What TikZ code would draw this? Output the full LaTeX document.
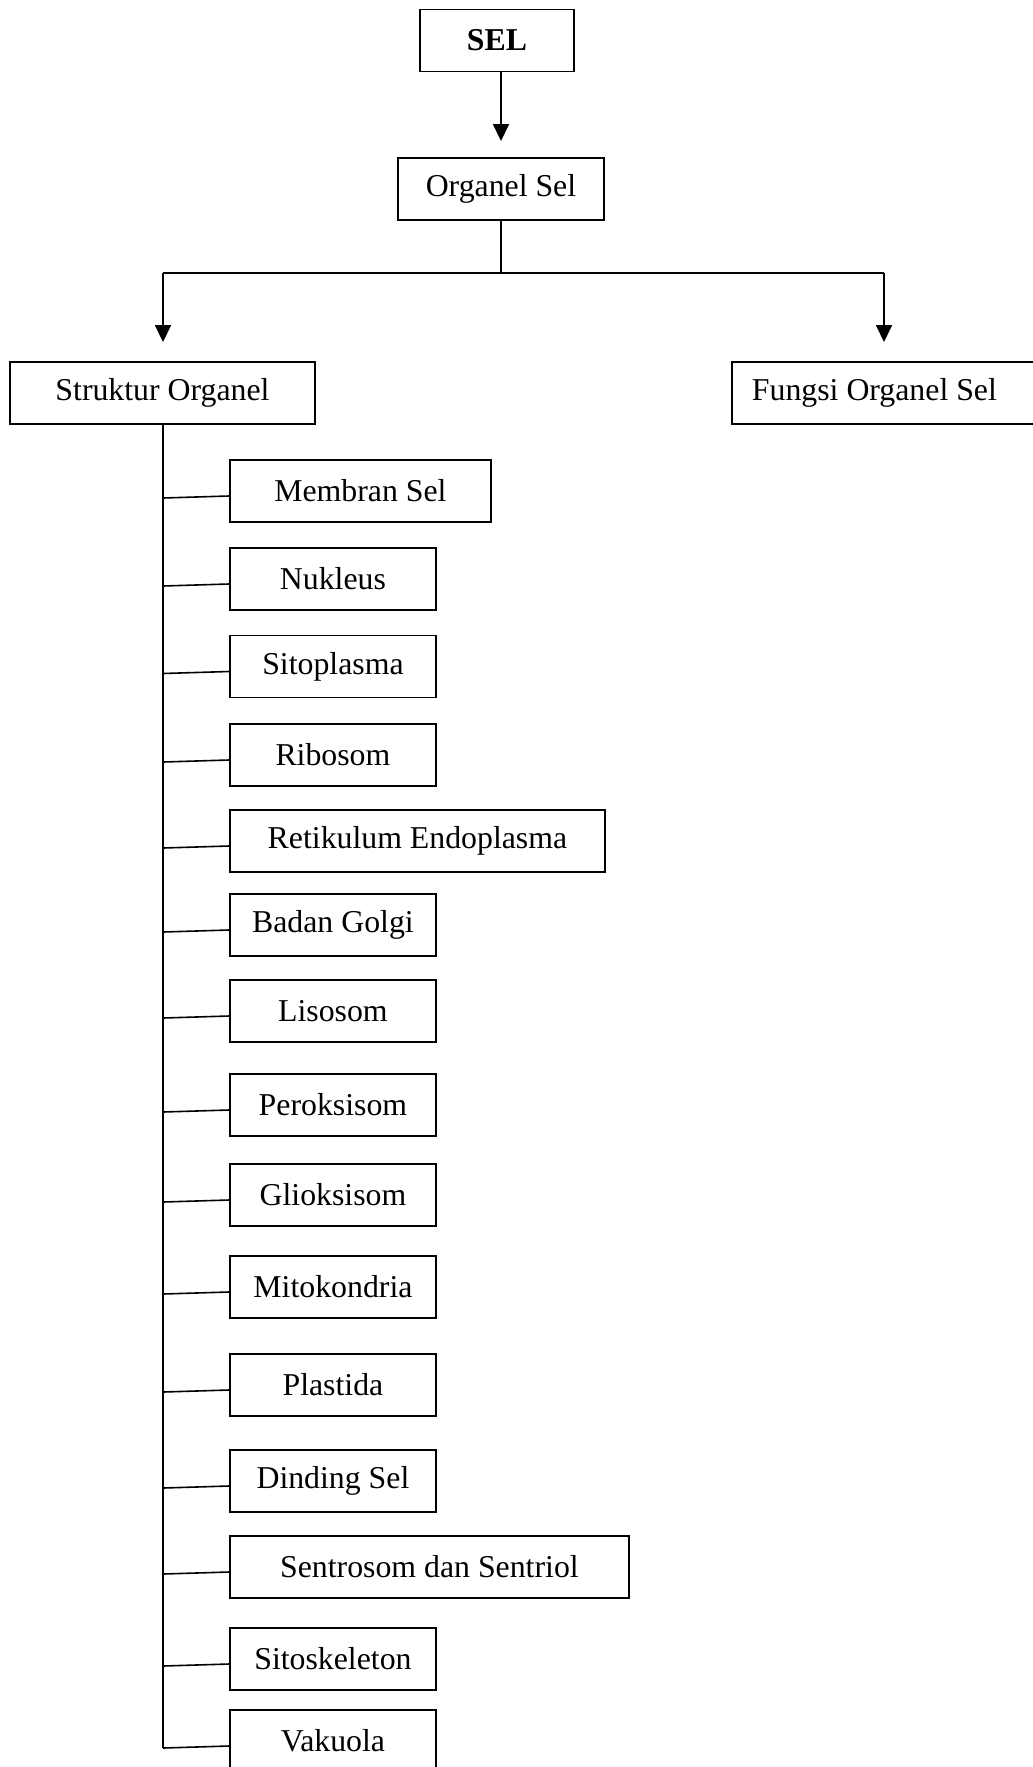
\documentclass[tikz,border=0pt]{standalone}
\usepackage{fontspec}
\setmainfont{Liberation Serif}
\usetikzlibrary{arrows.meta,calc}
\begin{document}
\begin{tikzpicture}[x=0.5pt,y=-0.5pt,
  box/.style={draw,line width=0.95pt,inner sep=0pt,minimum height=31pt,
    font=\fontsize{15.9}{19}\selectfont},
  conn/.style={line width=0.8pt},
  arr/.style={line width=0.8pt,-{Triangle[length=8.5pt,width=8pt]}}]
\useasboundingbox (0,0) rectangle (1033,1767);
\clip (0,0) rectangle (1033,1767);
% top
\node (sel) [box,minimum width=77pt] at (497,40.5) {\textbf{SEL}};
\node (org) [box,minimum width=103pt] at (501,189) {Organel Sel};
\draw[arr,shorten >=8pt] (sel.south -| org.north) -- (org.north);
\node (str) [box,minimum width=152.5pt] at (162.5,393) {Struktur Organel};
\node (fung) [box,anchor=west,minimum width=165pt] at (731,393) {\makebox[145pt][l]{Fungsi Organel Sel}};
\coordinate (split) at (501,273);
\coordinate (ltop) at (163,273);
\coordinate (rtop) at (884,273);
\draw[line width=0.6pt] (org.south) -- (split);
\draw[conn] (ltop) -- (rtop);
\draw[arr,shorten >=9.5pt] (ltop) -- (ltop |- str.north);
\draw[arr,shorten >=9.5pt] (rtop) -- (rtop |- fung.north);
% list
\coordinate (trunkend) at (163,1748);
\draw[conn] (str.south -| ltop) -- (trunkend);
\foreach \n/\t/\w/\y in {
  mem/Membran Sel/130.5/491,
  nuk/Nukleus/103/579,
  sit/Sitoplasma/103/666.5,
  rib/Ribosom/103/755,
  ret/Retikulum Endoplasma/187.5/841,
  gol/Badan Golgi/103/925,
  lis/Lisosom/103/1011,
  per/Peroksisom/103/1105,
  gli/Glioksisom/103/1195,
  mit/Mitokondria/103/1287,
  pla/Plastida/103/1385,
  din/Dinding Sel/103/1481,
  sen/Sentrosom dan Sentriol/199.5/1567,
  sks/Sitoskeleton/103/1659,
  vak/Vakuola/103/1741}{
  \node (\n) [box,anchor=west,minimum width=\w pt] at (229,\y) {\t};
  \draw[conn] ($(\n.west)+(0,5)$) -- ($(\n.west -| trunkend)+(0,7)$);
}
\end{tikzpicture}
\end{document}
